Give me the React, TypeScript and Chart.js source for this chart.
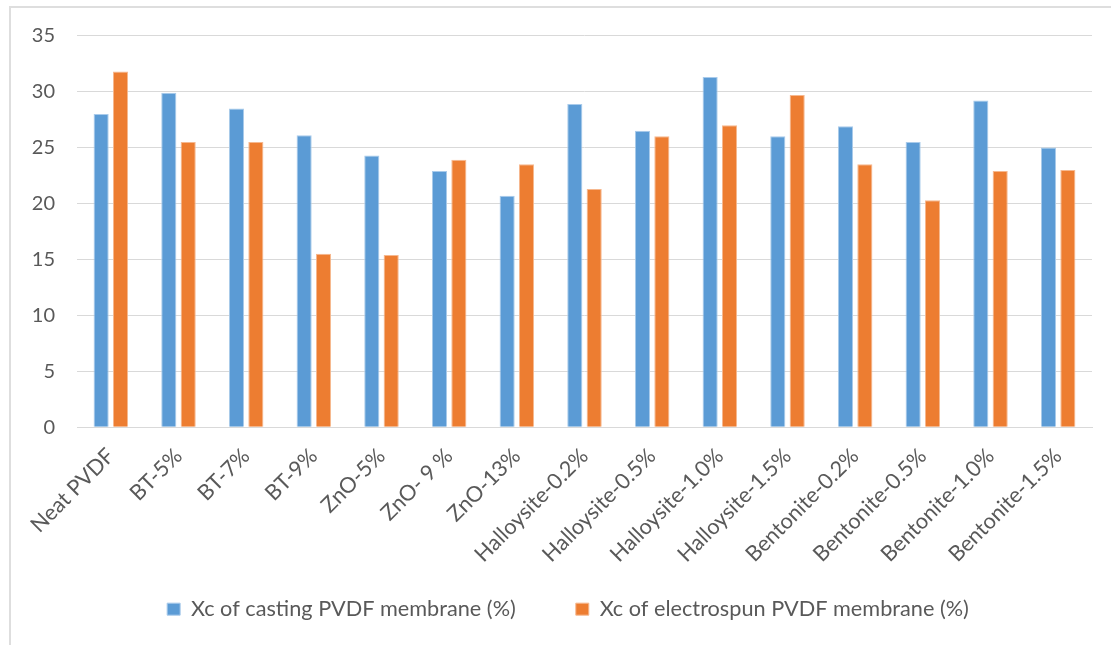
import React, { useEffect, useRef } from "react";
import { Chart, registerables } from "chart.js";

Chart.register(...registerables);

// Membrane samples along the x axis
const categories = [
  "Neat PVDF",
  "BT-5%",
  "BT-7%",
  "BT-9%",
  "ZnO-5%",
  "ZnO- 9 %",
  "ZnO-13%",
  "Halloysite-0.2%",
  "Halloysite-0.5%",
  "Halloysite-1.0%",
  "Halloysite-1.5%",
  "Bentonite-0.2%",
  "Bentonite-0.5%",
  "Bentonite-1.0%",
  "Bentonite-1.5%",
];

// Degree of crystallinity (%)
const castingXc = [28.0, 29.9, 28.5, 26.1, 24.3, 22.9, 20.7, 28.9, 26.5, 31.3, 26.0, 26.9, 25.5, 29.2, 25.0];
const electrospunXc = [31.8, 25.5, 25.5, 15.5, 15.4, 23.9, 23.5, 21.3, 26.0, 27.0, 29.7, 23.5, 20.3, 22.9, 23.0];

const seriesNames = ["Xc of casting PVDF membrane (%)", "Xc of electrospun PVDF membrane (%)"];

const yTicks = { min: 0, max: 35, step: 5 };

const FONT = "Lato, 'Open Sans', sans-serif";
const TEXT = "#595959";
const GRID = "#d9d9d9";
const LABEL_SIZE = 21.7;
const TICK_SIZE = 20;
const LEGEND_GAP = 48; // extra space after each legend entry

export default function App() {
  const canvasRef = useRef<HTMLCanvasElement>(null);

  useEffect(() => {
    if (!canvasRef.current) return;
    const chart = new Chart(canvasRef.current, {
      type: "bar",
      data: {
        labels: categories,
        datasets: [
          {
            label: seriesNames[0],
            data: castingXc,
            yAxisID: "y",
            backgroundColor: "#5b9bd5",
            borderColor: "#a9cbeb",
            borderWidth: 1,
          },
          {
            label: seriesNames[1],
            data: electrospunXc,
            yAxisID: "y",
            backgroundColor: "#ed7d31",
            borderColor: "#f6b88f",
            borderWidth: 1,
          },
        ],
      },
      options: {
        responsive: false,
        animation: false,
        datasets: {
          bar: { categoryPercentage: 0.573, barPercentage: 0.78 },
        },
        layout: { padding: { left: 30, right: 5, top: 35.7, bottom: 0 } },
        plugins: {
          tooltip: { enabled: false },
          legend: {
            position: "bottom",
            labels: {
              color: TEXT,
              font: { family: FONT, size: LABEL_SIZE },
              boxWidth: 13,
              boxHeight: 12,
              padding: 10,
              generateLabels: (c: any) => {
                const items = Chart.defaults.plugins.legend.labels.generateLabels(c);
                const ctx = c.ctx;
                ctx.save();
                ctx.font = `${LABEL_SIZE}px ${FONT}`;
                const sw = ctx.measureText(" ").width || 5;
                ctx.restore();
                const pad = " ".repeat(Math.round(LEGEND_GAP / sw));
                items.forEach((it: any, i: number) => {
                  if (i < items.length - 1) it.text = it.text + pad;
                });
                return items;
              },
            },
          },
        },
        scales: {
          x: {
            grid: { display: false },
            border: { display: true, color: GRID, width: 1 },
            ticks: {
              color: TEXT,
              font: { family: FONT, size: LABEL_SIZE },
              maxRotation: 45,
              minRotation: 45,
              autoSkip: false,
              padding: 8,
            },
            afterFit: (s: any) => {
              s.height = 161.1;
            },
          },
          y: {
            min: yTicks.min,
            max: yTicks.max,
            grid: { color: GRID, lineWidth: 1, drawTicks: false },
            border: { display: false },
            ticks: {
              stepSize: yTicks.step,
              color: TEXT,
              font: { family: FONT, size: TICK_SIZE },
              padding: 22,
            },
            afterFit: (s: any) => {
              s.width = 47;
            },
          },
          // empty strip on the right edge of the plot
          yPad: {
            type: "linear",
            position: "right",
            display: true,
            grid: { display: false },
            border: { display: false },
            ticks: { display: false },
            afterFit: (s: any) => {
              s.width = 14;
            },
          },
        },
      },
    });
    return () => chart.destroy();
  }, []);

  return (
    <div
      style={{
        position: "absolute",
        left: 0,
        top: 0,
        width: 1111,
        height: 645,
        overflow: "hidden",
        background: "#ffffff",
      }}
    >
      <div
        style={{
          position: "absolute",
          left: 9,
          top: 6,
          width: 1200,
          height: 700,
          borderLeft: "2px solid #dedede",
          borderTop: "2px solid #dedede",
        }}
      />
      <canvas
        ref={canvasRef}
        width={1111}
        height={630}
        style={{ position: "absolute", left: 0, top: 0, width: 1111, height: 630 }}
      />
    </div>
  );
}
